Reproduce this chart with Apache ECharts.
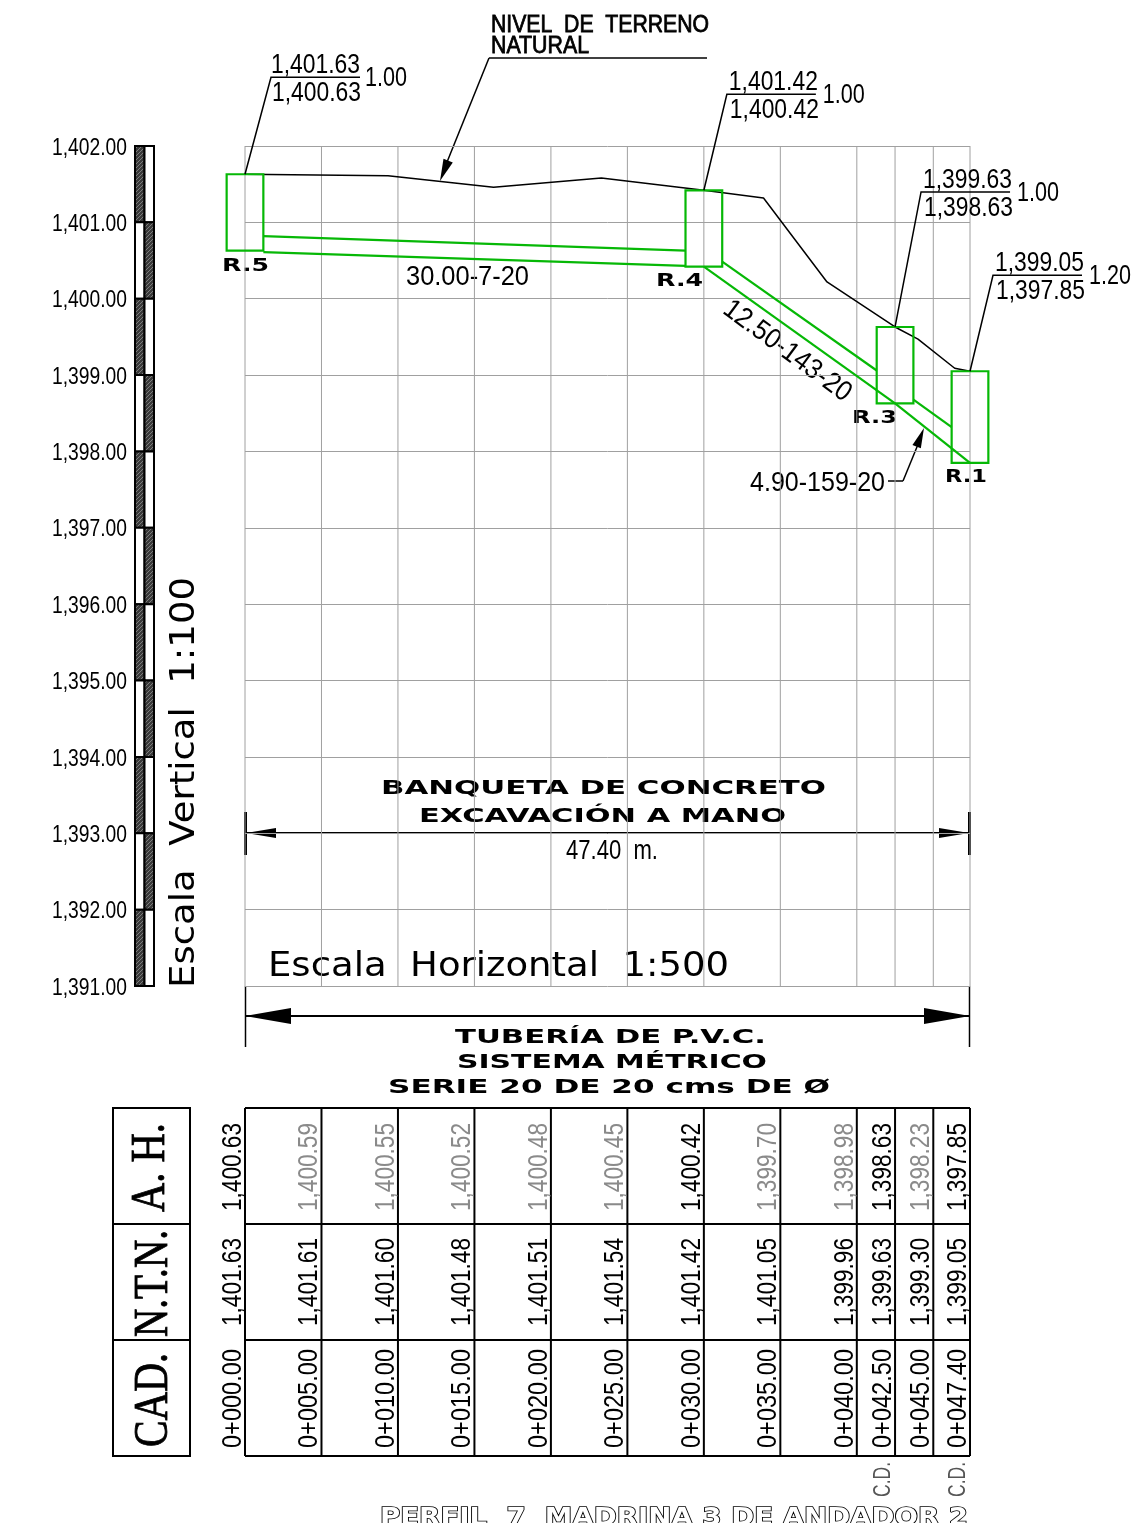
<!DOCTYPE html>
<html>
<head>
<meta charset="utf-8">
<style>
  html, body { margin: 0; padding: 0; background: #fff; overflow: hidden; }
  #main { width: 1142px; height: 1523px; }
</style>
<script src="https://cdn.jsdelivr.net/npm/echarts@6/dist/echarts.min.js"></script>
</head>
<body>
<div id="main"></div>
<script>
// terrain profile
var terrainStations = [0, 9.35, 16.25, 23.3, 30, 33.9, 38.05, 42.5, 44, 46.4, 47.4];
var terrainLevels = [1401.63, 1401.61, 1401.46, 1401.58, 1401.42, 1401.32, 1400.22, 1399.63, 1399.47, 1399.09, 1399.05];

// wells
var wellNames = ['R.5', 'R.4', 'R.3', 'R.1'];
var wellStations = [0, 30, 42.5, 47.4];
var wellRims = [1401.63, 1401.42, 1399.63, 1399.05];
var wellInverts = [1400.63, 1400.42, 1398.63, 1397.85];

// pipe runs
var pipeStations = [[1.2, 28.8], [1.2, 28.8], [31.2, 41.3], [30, 42.5], [43.7, 46.2], [42.5, 47.4]];
var pipeLevels = [[1400.82, 1400.63], [1400.61, 1400.43], [1400.485, 1399.06], [1400.42, 1398.63], [1398.68, 1398.32], [1398.63, 1397.85]];

// table
var stations = [0, 5, 10, 15, 20, 25, 30, 35, 40, 42.5, 45, 47.4];
var cadLabels = ['0+000.00', '0+005.00', '0+010.00', '0+015.00', '0+020.00', '0+025.00', '0+030.00', '0+035.00', '0+040.00', '0+042.50', '0+045.00', '0+047.40'];
var ntnValues = [1401.63, 1401.61, 1401.60, 1401.48, 1401.51, 1401.54, 1401.42, 1401.05, 1399.96, 1399.63, 1399.30, 1399.05];
var ahValues = [1400.63, 1400.59, 1400.55, 1400.52, 1400.48, 1400.45, 1400.42, 1399.70, 1398.98, 1398.63, 1398.23, 1397.85];
var rowHeaders = ['A. H.', 'N.T.N.', 'CAD.'];
var cdStations = [42.5, 47.4];

// vertical scale
var scaleLevels = [1401, 1400, 1399, 1398, 1397, 1396, 1395, 1394, 1393, 1392, 1391];
var scaleTicks = [1402, 1401, 1400, 1399, 1398, 1397, 1396, 1395, 1394, 1393, 1392, 1391];

var NARROW = '"Liberation Sans Narrow", "Liberation Sans", sans-serif';
var WIDE = '"DejaVu Sans", sans-serif';
var measureCtx = document.createElement('canvas').getContext('2d');

function fmt(v) {
  return v.toFixed(2).replace(/(\d)(\d{3}\.)/, '$1,$2');
}

// text element squeezed or stretched to an exact length, start point on its mid line
function txt(str, x, y, width, font, opts) {
  opts = opts || {};
  measureCtx.font = font;
  var style = {
    text: str, font: font, fill: opts.fill || '#000',
    align: opts.align || 'left', textAlign: opts.align || 'left',
    verticalAlign: 'middle', textVerticalAlign: 'middle'
  };
  if (opts.stroke) {
    style.stroke = opts.stroke;
    style.lineWidth = opts.lineWidth || 1;
  }
  return {
    type: 'text', x: x, y: y, rotation: opts.rotation || 0,
    scaleX: width / measureCtx.measureText(str).width,
    scaleY: opts.scaleY || 1,
    silent: true, style: style
  };
}

function seg(x1, y1, x2, y2, w) {
  return {
    type: 'line', silent: true,
    shape: { x1: x1, y1: y1, x2: x2, y2: y2 },
    style: { stroke: '#000', lineWidth: w || 1.5 }
  };
}

function arrowHead(tipX, tipY, fromX, fromY, len, half) {
  var dx = fromX - tipX, dy = fromY - tipY;
  var d = Math.sqrt(dx * dx + dy * dy);
  var ux = dx / d, uy = dy / d;
  return {
    type: 'polygon', silent: true,
    shape: { points: [
      [tipX, tipY],
      [tipX + ux * len - uy * half, tipY + uy * len + ux * half],
      [tipX + ux * len + uy * half, tipY + uy * len - ux * half]
    ] },
    style: { fill: '#000' }
  };
}

// hatch used on the vertical scale bar
var hatch = document.createElement('canvas');
hatch.width = 4;
hatch.height = 4;
var hctx = hatch.getContext('2d');
hctx.fillStyle = '#3a3a3a';
hctx.fillRect(0, 0, 4, 4);
hctx.strokeStyle = '#9a9a9a';
hctx.lineWidth = 0.7;
hctx.beginPath();
hctx.moveTo(0, 4); hctx.lineTo(4, 0);
hctx.stroke();

var GREEN = '#06b806';
var GRID_GRAY = '#a0a0a0';
var leaders = [[26, -97], [23, -96], [26, -135], [23, -96]];
var leaderText = [0, 2, 2, 2];
var run = 89;

function renderStationLine(params, api) {
  var a = api.coord([stations[params.dataIndex], 1391]);
  var b = api.coord([stations[params.dataIndex], 1402]);
  return {
    type: 'line',
    shape: { x1: a[0], y1: a[1], x2: b[0], y2: b[1] },
    style: { stroke: GRID_GRAY, lineWidth: 1 }
  };
}

function renderWell(params, api) {
  var i = params.dataIndex;
  var halfWidth = 1.2;
  var tl = api.coord([wellStations[i] - halfWidth, wellRims[i]]);
  var br = api.coord([wellStations[i] + halfWidth, wellInverts[i]]);
  var top = api.coord([wellStations[i], wellRims[i]]);
  var kx = top[0] + leaders[i][0];
  var ky = top[1] + leaders[i][1];
  var tx = kx + leaderText[i];
  var depth = (wellRims[i] - wellInverts[i]).toFixed(2);
  return {
    type: 'group',
    children: [
      {
        type: 'rect',
        shape: { x: tl[0], y: tl[1], width: br[0] - tl[0], height: br[1] - tl[1] },
        style: { fill: 'none', stroke: GREEN, lineWidth: 2.2 }
      },
      {
        type: 'polyline',
        shape: { points: [top, [kx, ky], [kx + run, ky]] },
        style: { fill: 'none', stroke: '#000', lineWidth: 1.5 }
      },
      txt(fmt(wellRims[i]), tx, ky - 12, 89, '28px ' + NARROW),
      txt(fmt(wellInverts[i]), tx + 1, ky + 16, 89, '28px ' + NARROW),
      txt(depth, tx + run + 5, ky + 1, 42, '28px ' + NARROW)
    ]
  };
}

function renderScaleBand(params, api) {
  var i = params.dataIndex;
  var level = scaleLevels[i];
  var a = api.coord([0, level + 1]);
  var b = api.coord([1, level]);
  var c = api.coord([2, level + 1]);
  var w = b[0] - a[0];
  var h = b[1] - a[1];
  var leftDark = i % 2 === 0;
  return {
    type: 'group',
    children: [
      {
        type: 'rect', shape: { x: a[0], y: a[1], width: w, height: h },
        style: { fill: leftDark ? { image: hatch, repeat: 'repeat' } : '#fff', stroke: '#000', lineWidth: 2 }
      },
      {
        type: 'rect', shape: { x: b[0], y: c[1], width: w, height: h },
        style: { fill: leftDark ? '#fff' : { image: hatch, repeat: 'repeat' }, stroke: '#000', lineWidth: 2 }
      }
    ]
  };
}

// the axis labels need the squeezed text, so they are drawn here and not by axisLabel
function renderScaleTick(params, api) {
  var p = api.coord([0, scaleTicks[params.dataIndex]]);
  return txt(fmt(scaleTicks[params.dataIndex]), p[0] - 83, p[1] + 2, 75, '24px ' + NARROW);
}

function renderColumn(params, api) {
  var i = params.dataIndex;
  var a = api.coord([stations[i], 0]);
  var b = api.coord([stations[i], 3]);
  var x = a[0];
  var isWell = wellStations.indexOf(stations[i]) >= 0;
  var font = '28px ' + NARROW;
  var rot = Math.PI / 2;
  return {
    type: 'group',
    children: [
      {
        type: 'line',
        shape: { x1: x, y1: a[1], x2: x, y2: b[1] },
        style: { stroke: '#000', lineWidth: 2 }
      },
      txt(fmt(ahValues[i]), x - 12, api.coord([0, 2])[1] - 13, 88, font, { rotation: rot, fill: isWell ? '#000' : '#8a8a8a' }),
      txt(fmt(ntnValues[i]), x - 12, api.coord([0, 1])[1] - 14, 88, font, { rotation: rot }),
      txt(cadLabels[i], x - 12, api.coord([0, 0])[1] - 8, 99, font, { rotation: rot })
    ]
  };
}

function renderHeader(params, api) {
  var i = params.dataIndex;
  var lengths = [89, 107, 94];
  var startUp = [12, 3, 9];
  var shift = [0, 3, 3];
  var p = api.coord([0.5, 2 - i]);
  var corner = api.coord([0, 3 - i]);
  var end = api.coord([1, 2 - i]);
  return {
    type: 'group',
    children: [
      {
        type: 'rect',
        shape: { x: corner[0], y: corner[1], width: end[0] - corner[0], height: end[1] - corner[1] },
        style: { fill: 'none', stroke: '#000', lineWidth: 2 }
      },
      txt(rowHeaders[i], p[0] + shift[i], end[1] - startUp[i], lengths[i], '40px "Liberation Serif", serif', {
        rotation: Math.PI / 2, scaleY: 1.2, stroke: '#000', lineWidth: 0.7
      })
    ]
  };
}

function renderCd(params, api) {
  var p = api.coord([cdStations[params.dataIndex], 0]);
  return txt('C.D.', p[0] - 12, p[1] + 41, 35, '24px ' + NARROW, { rotation: Math.PI / 2, fill: '#555' });
}

var notes = [
  // terrain note
  txt('NIVEL  DE  TERRENO', 491, 25, 218, '24px ' + NARROW, { stroke: '#000', lineWidth: 0.8 }),
  txt('NATURAL', 491, 46, 98, '24px ' + NARROW, { stroke: '#000', lineWidth: 0.8 }),
  seg(489, 58, 707, 58),
  seg(489, 58, 443, 172),
  arrowHead(440, 181, 489, 58, 22, 5),

  // pipe notes
  txt('30.00-7-20', 406, 277, 123, '28px ' + NARROW),
  txt('12.50-143-20', 726, 306, 152, '28px ' + NARROW, { rotation: -0.635 }),
  txt('4.90-159-20', 750, 483, 135, '28px ' + NARROW),
  seg(888, 481, 903, 481),
  seg(903, 481, 919, 442),
  arrowHead(924, 428, 903, 481, 20, 4.5),

  // well names
  txt(wellNames[0], 222, 267, 47, 'bold 17px ' + WIDE),
  txt(wellNames[1], 656, 282, 47, 'bold 17px ' + WIDE),
  txt(wellNames[2], 852, 419, 45, 'bold 17px ' + WIDE),
  txt(wellNames[3], 945, 478, 42, 'bold 17px ' + WIDE),

  // length dimension
  txt('BANQUETA DE CONCRETO', 381, 789, 445, 'bold 20px ' + WIDE),
  txt('EXCAVACIÓN A MANO', 419, 817, 367, 'bold 20px ' + WIDE),
  seg(245, 833, 970, 833, 2),
  seg(245.5, 812, 245.5, 855, 3),
  seg(969.5, 812, 969.5, 855, 3),
  arrowHead(246, 833, 970, 833, 30, 5),
  arrowHead(969, 833, 245, 833, 30, 5),
  txt('47.40  m.', 566, 851, 92, '28px ' + NARROW),

  // scales
  txt('Escala  Vertical  1:100', 185, 988, 411, '33px ' + WIDE, { rotation: Math.PI / 2 }),
  txt('Escala  Horizontal  1:500', 268, 967, 461, '33px ' + WIDE),

  // pipe dimension
  seg(245.5, 986, 245.5, 1047, 1.5),
  seg(969.5, 986, 969.5, 1047, 1.5),
  seg(245, 1016, 970, 1016, 2),
  arrowHead(245, 1016, 970, 1016, 46, 8),
  arrowHead(970, 1016, 245, 1016, 46, 8),
  txt('TUBERÍA DE P.V.C.', 455, 1038, 311, 'bold 20px ' + WIDE),
  txt('SISTEMA MÉTRICO', 457, 1063, 310, 'bold 20px ' + WIDE),
  txt('SERIE 20 DE 20 cms DE Ø', 388, 1088, 442, 'bold 20px ' + WIDE),

  // sheet title, cut by the page edge
  txt('PERFIL  7  MADRINA 3 DE ANDADOR 2', 380, 1519, 588, 'bold 24px ' + WIDE, { fill: '#fff', stroke: '#000', lineWidth: 1.6 })
];

var pipeSeries = pipeStations.map(function (xs, i) {
  return {
    type: 'line',
    xAxisIndex: 0,
    yAxisIndex: 0,
    symbol: 'none',
    clip: false,
    z: 3,
    lineStyle: { color: GREEN, width: 2.2 },
    data: [[xs[0], pipeLevels[i][0]], [xs[1], pipeLevels[i][1]]]
  };
});

function ordinal(arr) {
  return arr.map(function (v, i) { return [i, 0]; });
}

var chart = echarts.init(document.getElementById('main'), null, { renderer: 'canvas' });

chart.setOption({
  animation: false,
  backgroundColor: '#fff',
  grid: [
    { left: 245, top: 146, width: 725, height: 840 },
    { left: 245, top: 1108, width: 725, height: 348 },
    { left: 135, top: 146, width: 19, height: 840 },
    { left: 113, top: 1108, width: 77, height: 348 }
  ],
  xAxis: [
    { gridIndex: 0, type: 'value', min: 0, max: 47.4, axisLine: { show: false }, axisTick: { show: false }, axisLabel: { show: false }, splitLine: { show: false } },
    { gridIndex: 1, type: 'value', min: 0, max: 47.4, axisLine: { show: false }, axisTick: { show: false }, axisLabel: { show: false }, splitLine: { show: false } },
    { gridIndex: 2, type: 'value', min: 0, max: 2, axisLine: { show: false }, axisTick: { show: false }, axisLabel: { show: false }, splitLine: { show: false } },
    { gridIndex: 3, type: 'value', min: 0, max: 1, axisLine: { show: false }, axisTick: { show: false }, axisLabel: { show: false }, splitLine: { show: false } }
  ],
  yAxis: [
    {
      gridIndex: 0, type: 'value', min: 1391, max: 1402, interval: 1,
      axisLine: { show: false }, axisTick: { show: false }, axisLabel: { show: false },
      splitLine: { show: true, lineStyle: { color: GRID_GRAY, width: 1 } }
    },
    {
      gridIndex: 1, type: 'value', min: 0, max: 3, interval: 1,
      axisLine: { show: false }, axisTick: { show: false }, axisLabel: { show: false },
      splitLine: { show: true, lineStyle: { color: '#000', width: 2 } }
    },
    { gridIndex: 2, type: 'value', min: 1391, max: 1402, interval: 1, axisLine: { show: false }, axisTick: { show: false }, axisLabel: { show: false }, splitLine: { show: false } },
    { gridIndex: 3, type: 'value', min: 0, max: 3, axisLine: { show: false }, axisTick: { show: false }, axisLabel: { show: false }, splitLine: { show: false } }
  ],
  graphic: { elements: notes },
  series: [
    { type: 'custom', xAxisIndex: 0, yAxisIndex: 0, z: 1, silent: true, data: ordinal(stations), renderItem: renderStationLine },
    {
      type: 'line',
      xAxisIndex: 0,
      yAxisIndex: 0,
      symbol: 'none',
      z: 2,
      lineStyle: { color: '#000', width: 1.5 },
      data: terrainStations.map(function (x, i) { return [x, terrainLevels[i]]; })
    }
  ].concat(pipeSeries).concat([
    { type: 'custom', xAxisIndex: 0, yAxisIndex: 0, z: 4, silent: true, data: ordinal(wellStations), renderItem: renderWell },
    { type: 'custom', xAxisIndex: 2, yAxisIndex: 2, silent: true, data: ordinal(scaleLevels), renderItem: renderScaleBand },
    { type: 'custom', xAxisIndex: 2, yAxisIndex: 2, silent: true, data: ordinal(scaleTicks), renderItem: renderScaleTick },
    { type: 'custom', xAxisIndex: 1, yAxisIndex: 1, silent: true, data: ordinal(stations), renderItem: renderColumn },
    { type: 'custom', xAxisIndex: 3, yAxisIndex: 3, silent: true, data: ordinal(rowHeaders), renderItem: renderHeader },
    { type: 'custom', xAxisIndex: 1, yAxisIndex: 1, silent: true, data: ordinal(cdStations), renderItem: renderCd }
  ])
});
</script>
</body>
</html>
